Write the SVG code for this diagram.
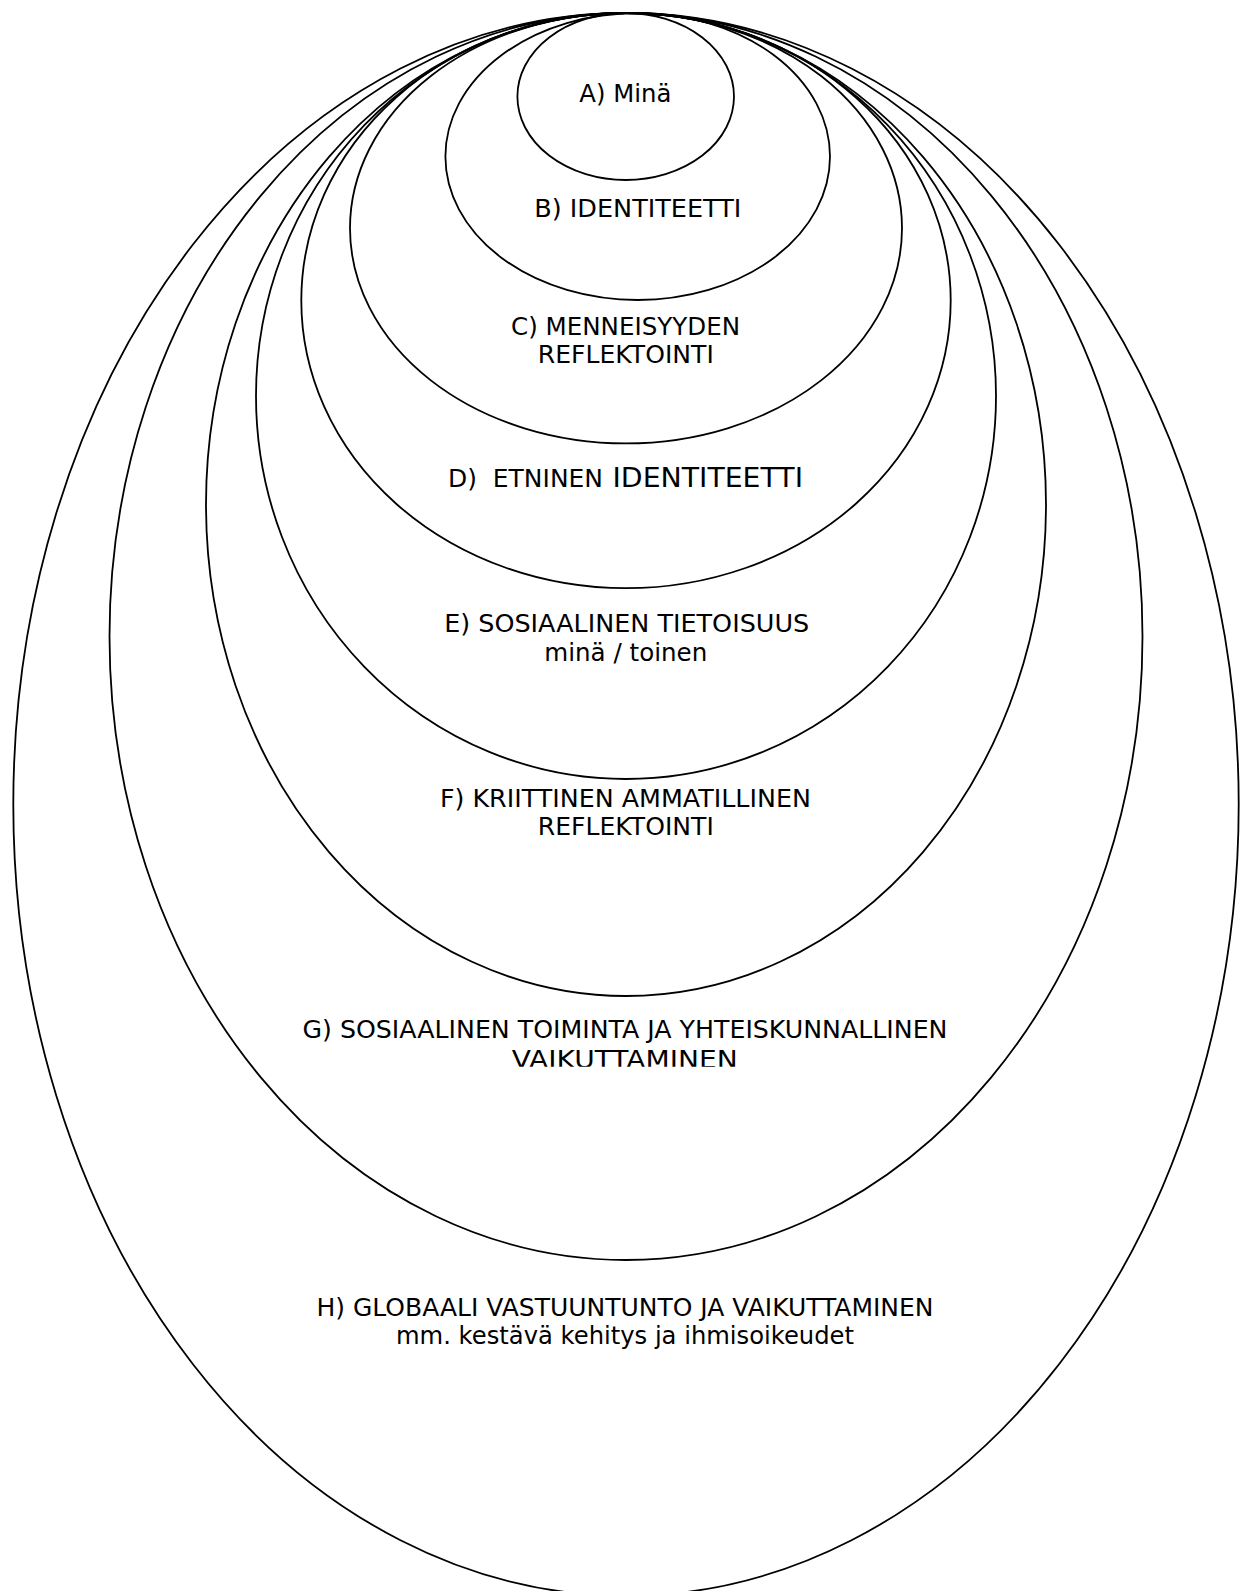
<svg xmlns="http://www.w3.org/2000/svg" width="1249" height="1591" viewBox="0 0 1249 1591">
<style>
.ring{fill:none;stroke:#000;stroke-width:1.8}
.lbl{font-family:"DejaVu Sans","Liberation Sans",sans-serif;font-size:24px;fill:#000;text-anchor:middle}
.st{text-anchor:start}
</style>
<defs>
<clipPath id="clipG"><rect x="0" y="0" width="1249" height="1066.7"/></clipPath>
</defs>
<rect x="0" y="0" width="1249" height="1591" fill="#fff"/>
<g id="nodeH">
<ellipse class="ring" cx="626" cy="804.4" rx="612.7" ry="791.4"/>
<text class="lbl" x="625" y="1316" textLength="617" lengthAdjust="spacingAndGlyphs">H) GLOBAALI VASTUUNTUNTO JA VAIKUTTAMINEN</text>
<text class="lbl" x="625" y="1344" textLength="458" lengthAdjust="spacingAndGlyphs">mm. kestävä kehitys ja ihmisoikeudet</text>
</g>
<g id="nodeG">
<ellipse class="ring" cx="626" cy="636.5" rx="516.5" ry="623.5"/>
<text class="lbl" x="625" y="1038.3" textLength="645" lengthAdjust="spacingAndGlyphs">G) SOSIAALINEN TOIMINTA JA YHTEISKUNNALLINEN</text>
<text class="lbl" x="624.7" y="1068" textLength="226" lengthAdjust="spacingAndGlyphs" clip-path="url(#clipG)">VAIKUTTAMINEN</text>
</g>
<g id="nodeF">
<ellipse class="ring" cx="626" cy="504.5" rx="420" ry="491.5"/>
<text class="lbl" x="625.4" y="806.7" textLength="371" lengthAdjust="spacingAndGlyphs">F) KRIITTINEN AMMATILLINEN</text>
<text class="lbl" x="625.8" y="835" textLength="176" lengthAdjust="spacingAndGlyphs">REFLEKTOINTI</text>
</g>
<g id="nodeE">
<ellipse class="ring" cx="626" cy="396" rx="370" ry="383"/>
<text class="lbl" x="626.7" y="631.7" textLength="365" lengthAdjust="spacingAndGlyphs">E) SOSIAALINEN TIETOISUUS</text>
<text class="lbl" x="625.8" y="661" textLength="163" lengthAdjust="spacingAndGlyphs">minä / toinen</text>
</g>
<g id="nodeD">
<ellipse class="ring" cx="626" cy="300.6" rx="324.7" ry="287.6"/>
<text class="lbl st" x="448" y="486.7" textLength="155" lengthAdjust="spacingAndGlyphs" xml:space="preserve">D)  ETNINEN</text>
<text class="lbl st" x="612.5" y="486.7" font-size="26.5" style="font-size:26.5px" textLength="190.5" lengthAdjust="spacingAndGlyphs">IDENTITEETTI</text>
</g>
<g id="nodeC">
<ellipse class="ring" cx="626" cy="228.2" rx="276" ry="215.2"/>
<text class="lbl" x="625.5" y="335" textLength="229" lengthAdjust="spacingAndGlyphs">C) MENNEISYYDEN</text>
<text class="lbl" x="625.8" y="363.3" textLength="176" lengthAdjust="spacingAndGlyphs">REFLEKTOINTI</text>
</g>
<g id="nodeB">
<ellipse class="ring" cx="637.7" cy="156.5" rx="192.3" ry="143.5"/>
<text class="lbl" x="637.8" y="216.7" textLength="207" lengthAdjust="spacingAndGlyphs">B) IDENTITEETTI</text>
</g>
<g id="nodeA">
<ellipse class="ring" cx="625.7" cy="96.5" rx="108.3" ry="83.5"/>
<text class="lbl" x="625.3" y="101.7" textLength="92" lengthAdjust="spacingAndGlyphs">A) Minä</text>
</g>
<g id="connectors"/>
</svg>
